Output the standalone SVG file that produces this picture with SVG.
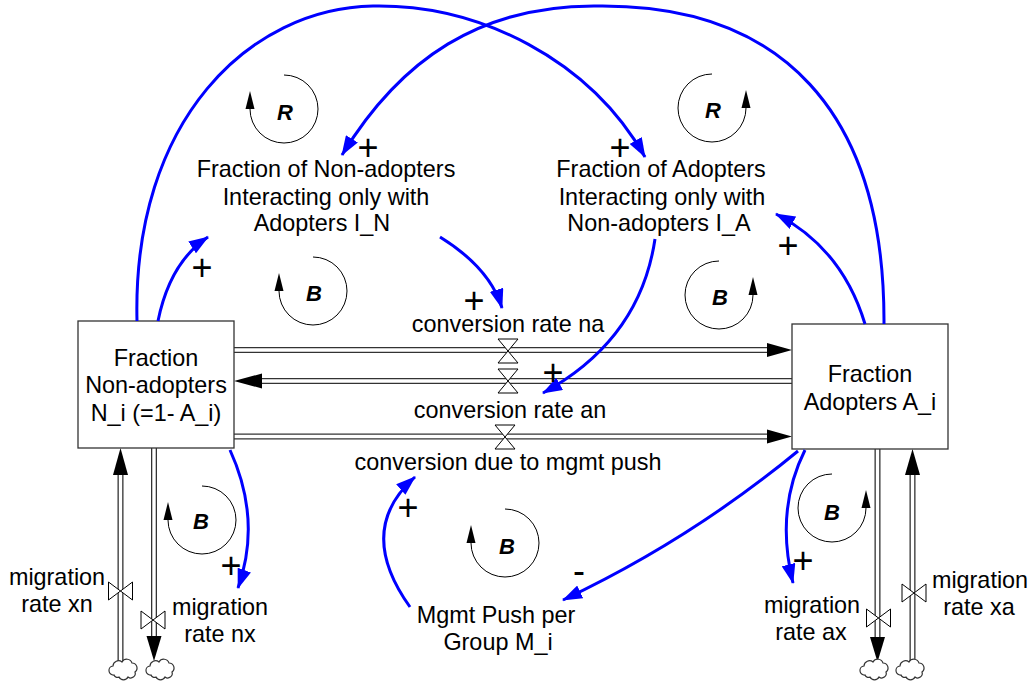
<svg xmlns="http://www.w3.org/2000/svg" xmlns:xlink="http://www.w3.org/1999/xlink" width="1031" height="683" viewBox="0 0 1031 683">
<style>
text{font-family:"Liberation Sans",Arial,sans-serif;fill:#000}
.lbl{font-size:23.4px;text-anchor:middle}
.sign{font-size:36px;text-anchor:middle}
.loopt{font-size:22px;font-weight:bold;font-style:italic;text-anchor:middle}
.box{fill:#fff;stroke:#333;stroke-width:1.3}
.po{stroke:#333;stroke-width:6;fill:none}
.pi{stroke:#fff;stroke-width:3.4;fill:none}
.ah{fill:#000}
.valve{fill:#fff;stroke:#000;stroke-width:1}
.link{fill:none;stroke:#0000ff;stroke-width:3;marker-end:url(#ba)}
.loop{fill:none;stroke:#000;stroke-width:1}
.cloud{fill:#fff;stroke:#333;stroke-width:1.2}
</style>
<defs>
<marker id="ba" markerUnits="userSpaceOnUse" viewBox="0 0 20 14" markerWidth="20" markerHeight="14" refX="19" refY="7" orient="auto">
<path d="M0,0 L20,7 L0,14 z" fill="#0000ff"/>
</marker>
<path id="cloudp" class="cloud" d="M-10,5 a4.5,4.5 0 0 1 -1,-9 a5.5,5.5 0 0 1 9,-4 a5.5,5.5 0 0 1 10,1 a5,5 0 0 1 3,9 a4.5,4.5 0 0 1 -7,5 a5,5 0 0 1 -9,0 a3.5,3.5 0 0 1 -5,-2 z"/>
<g id="loopL"><path class="loop" d="M0,-34 A34,34 0 1 1 -34,0"/><polygon class="ah" points="-38.5,0 -29.5,0 -34,-18"/></g>
<g id="loopR"><path class="loop" d="M0,-34 A34,34 0 1 0 34,0"/><polygon class="ah" points="29.5,0 38.5,0 34,-18"/></g>
<polygon id="vh" class="valve" points="-10,-12 10,-12 -10,12 10,12"/>
<polygon id="vv" class="valve" points="-12,-9 -12,9 12,-9 12,9"/>
</defs>
<rect width="1031" height="683" fill="#fff"/>

<g id="flows">
<path class="po" d="M234,350 H768 M262,381 H792 M234,436.5 H768 M120.5,662 V474 M154,448 V637 M877.5,449 V638 M912.5,662 V474"/>
<path class="pi" d="M234,350 H768 M262,381 H792 M234,436.5 H768 M120.5,662 V474 M154,448 V637 M877.5,449 V638 M912.5,662 V474"/>
<polygon class="ah" points="767,343 792,350 767,357"/>
<polygon class="ah" points="262,373.5 234,381 262,388.5"/>
<polygon class="ah" points="767,429.5 792,436.5 767,443.5"/>
<polygon class="ah" points="113,475 120.5,448 128,475"/>
<polygon class="ah" points="146.5,636 154,661 161.5,636"/>
<polygon class="ah" points="870,637 877.5,662 885,637"/>
<polygon class="ah" points="905,475 912.5,449 920,475"/>
<use xlink:href="#vh" x="508" y="351"/>
<use xlink:href="#vh" x="508" y="381"/>
<use xlink:href="#vh" x="505" y="437"/>
<use xlink:href="#vv" x="120.5" y="591"/>
<use xlink:href="#vv" x="153" y="620"/>
<use xlink:href="#vv" x="878.5" y="618"/>
<use xlink:href="#vv" x="914" y="593"/>
<use xlink:href="#cloudp" x="124" y="670"/>
<use xlink:href="#cloudp" x="161" y="670"/>
<use xlink:href="#cloudp" x="875" y="670"/>
<use xlink:href="#cloudp" x="911" y="670"/>
</g>

<g id="node-nonadopters">
<rect class="box" x="78" y="321" width="156" height="127"/>
<text class="lbl" x="156" y="366">Fraction</text>
<text class="lbl" x="156" y="393">Non-adopters</text>
<text class="lbl" x="156" y="421">N_i (=1- A_i)</text>
</g>
<g id="node-adopters">
<rect class="box" x="792" y="324" width="156" height="125"/>
<text class="lbl" x="870" y="382">Fraction</text>
<text class="lbl" x="870" y="410">Adopters A_i</text>
</g>
<g id="node-IN">
<text class="lbl" x="326" y="177">Fraction of Non-adopters</text>
<text class="lbl" x="326" y="205">Interacting only with</text>
<text class="lbl" x="322" y="231">Adopters I_N</text>
</g>
<g id="node-IA">
<text class="lbl" x="661" y="177">Fraction of Adopters</text>
<text class="lbl" x="662" y="205">Interacting only with</text>
<text class="lbl" x="659" y="231">Non-adopters I_A</text>
</g>
<g id="node-na"><text class="lbl" x="508" y="332">conversion rate na</text></g>
<g id="node-an"><text class="lbl" x="510" y="418">conversion rate an</text></g>
<g id="node-push"><text class="lbl" x="508" y="470">conversion due to mgmt push</text></g>
<g id="node-mgmt">
<text class="lbl" x="496" y="623">Mgmt Push per</text>
<text class="lbl" x="498" y="650">Group M_i</text>
</g>
<g id="node-xn"><text class="lbl" x="57" y="585">migration</text><text class="lbl" x="57" y="612">rate xn</text></g>
<g id="node-nx"><text class="lbl" x="220" y="615">migration</text><text class="lbl" x="220" y="642">rate nx</text></g>
<g id="node-ax"><text class="lbl" x="812" y="613">migration</text><text class="lbl" x="811" y="640">rate ax</text></g>
<g id="node-xa"><text class="lbl" x="980" y="588">migration</text><text class="lbl" x="979" y="615">rate xa</text></g>

<g id="connectors">
<path class="link" d="M137,321 C132,120 250,8 373,6 C480,4 590,60 645,157"/>
<path class="link" d="M884,324 C885,110 780,5 600,6 C480,4 400,60 342,155"/>
<path class="link" d="M158,321 Q170,262 208,237"/>
<path class="link" d="M865,324 Q842,248 776,214"/>
<path class="link" d="M440,237 Q490,268 502,308"/>
<path class="link" d="M655,239 Q640,340 543,393"/>
<path class="link" d="M230,450 Q262,520 238,588"/>
<path class="link" d="M805,450 Q775,510 793,583"/>
<path class="link" d="M798,451 Q690,540 563,600"/>
<path class="link" d="M410,607 Q355,530 415,477"/>
<text class="sign" x="620" y="160">+</text>
<text class="sign" x="368" y="160">+</text>
<text class="sign" x="202" y="280">+</text>
<text class="sign" x="788" y="258">+</text>
<text class="sign" x="474" y="313">+</text>
<text class="sign" x="553" y="385">+</text>
<text class="sign" x="231" y="578">+</text>
<text class="sign" x="803" y="573">+</text>
<text class="sign" x="408" y="520">+</text>
<text class="sign" x="579" y="583">-</text>
</g>

<g id="loops">
<use xlink:href="#loopL" x="284" y="109"/><text class="loopt" x="285" y="120">R</text>
<use xlink:href="#loopR" x="712" y="108"/><text class="loopt" x="713" y="118">R</text>
<use xlink:href="#loopL" x="313" y="291"/><text class="loopt" x="314" y="301">B</text>
<use xlink:href="#loopR" x="719" y="295"/><text class="loopt" x="720" y="305">B</text>
<use xlink:href="#loopL" x="202" y="520"/><text class="loopt" x="201" y="529">B</text>
<use xlink:href="#loopL" x="505" y="543"/><text class="loopt" x="507" y="554">B</text>
<use xlink:href="#loopR" x="832" y="508"/><text class="loopt" x="832" y="520">B</text>
</g>
</svg>
